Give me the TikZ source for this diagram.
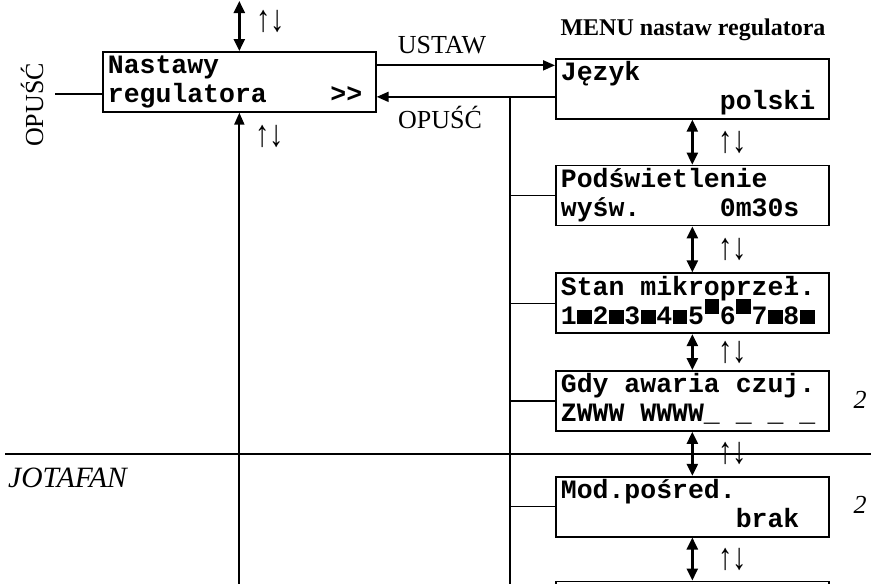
\documentclass[tikz,border=0pt]{standalone}
\usepackage{fontspec}
\setmainfont{Liberation Serif}
\setmonofont{Liberation Mono}
\usetikzlibrary{arrows.meta, positioning}
\newcommand{\ls}{\rule[-8pt]{0pt}{29pt}}
\newcommand{\chr}[1]{\hspace*{\dimexpr#1\fontcharwd\font`M\relax}}
\newcommand{\sqlo}{\makebox[0.6em][c]{\rule{0.55em}{0.55em}}}
\newcommand{\sqhi}{\makebox[0.6em][c]{\smash{\rule[0.4em]{0.55em}{0.55em}}}}
\newcommand{\updn}{\scalebox{1.1}[1.45]{↑↓}}

\begin{document}
\begin{tikzpicture}[x=1pt, y=-1pt,
    lcd/.style={draw, line width=1.7pt, text width=263pt, minimum height=60pt,
                inner xsep=5pt, inner ysep=1pt, align=left,
                font=\fontsize{26.5}{29}\selectfont\ttfamily\bfseries},
    darr/.style={{Triangle[length=12pt,width=11pt]}-{Triangle[length=12pt,width=11pt]},
                 line width=2.4pt},
    arr/.style={-{Triangle[length=12pt,width=10pt]}, line width=2pt},
    wire/.style={line width=1.3pt},
    ud/.style={font=\fontsize{26}{28}\selectfont, inner sep=0pt},
    lbl/.style={font=\fontsize{26}{28}\selectfont, anchor=base, inner sep=0pt},
  ]
    \useasboundingbox (0,0) rectangle (871,584);

    % main screen and the settings menu
    \node[lcd, anchor=north west] (nast) at (102,51)
      {\ls Nastawy\\\ls regulatora\chr{4}>\kern0pt>};
    \node[lcd, anchor=north west] (jez) at (555,58)
      {\ls Język\\\ls \chr{10}polski};
    \node[lcd, below=45pt of jez]  (pods) {\ls Podświetlenie\\\ls wyśw.\chr{5}0m30s};
    \node[lcd, below=46pt of pods] (stan)
      {\ls Stan\chr{1}mikroprzeł.\\\ls 1\sqlo2\sqlo3\sqlo4\sqlo5\sqhi6\sqhi7\sqlo8\sqlo};
    \node[lcd, below=36pt of stan] (gdy)
      {\ls Gdy\chr{1}awaria\chr{1}czuj.\\\ls ZWWW\chr{1}WWWW\_\chr{1}\_\chr{1}\_\chr{1}\_};
    \node[lcd, below=44pt of gdy]  (mod)  {\ls Mod.pośred.\\\ls \chr{11}brak};
    \node[lcd, below=43pt of mod]  (next) {};

    % labels
    \node[lbl, font=\fontsize{24}{26}\selectfont\bfseries] (menu) at (693,35)
      {MENU nastaw regulatora};
    \node[lbl] (ustaw) at (442,53) {USTAW};
    \node[lbl] (opusc) at (440,128) {OPUŚĆ};
    \node[lbl, rotate=90] (opl) at (43,105) {OPUŚĆ};
    \node[lbl, anchor=base west, font=\fontsize{29.5}{31}\selectfont\itshape] (jota)
      at (8,487) {JOTAFAN};
    \node[lbl, font=\fontsize{26}{28}\selectfont\itshape] (n1) at (860,408) {2};
    \node[lbl, font=\fontsize{26}{28}\selectfont\itshape] (n2) at (860,513) {2};

    \coordinate (topend) at (nast.north |- 0,1);
    \coordinate (botend) at (nast.south |- 0,600);
    \coordinate (opend)  at (55,94);
    \coordinate (bus)    at (510,96);
    \coordinate (busend) at (510,600);
    \coordinate (sepL)   at (5,454);
    \coordinate (sepR)   at (871,454);

    % connectors
    \draw[darr] (topend) -- (nast.north) node[ud, pos=0.4, right=16pt] (udt) {\updn};
    \draw[arr] (botend) -- (nast.south);
    \node[ud, below right=12pt and 16pt of nast.south] (udb) {\updn};
    \draw[line width=2pt] (opend) -- (opend -| nast.west);
    \draw[arr] ([yshift=16.5pt]nast.east) -- ([yshift=16.5pt]nast.east -| jez.west);
    \draw[arr] ([yshift=-8pt]jez.west) -- ([yshift=-8pt]jez.west -| nast.east);
    \draw[wire] (bus) -- (busend);
    \foreach \b in {pods, stan, gdy, mod}
      \draw[wire] (bus |- \b.west) -- (\b.west);
    \foreach \a/\b in {jez/pods, pods/stan, stan/gdy, gdy/mod, mod/next}
      \draw[darr] (\a.south) -- (\b.north) node[ud, midway, right=25pt] {\updn};
    \draw[line width=2pt] (sepL) -- (sepR);
  \end{tikzpicture}
\end{document}
